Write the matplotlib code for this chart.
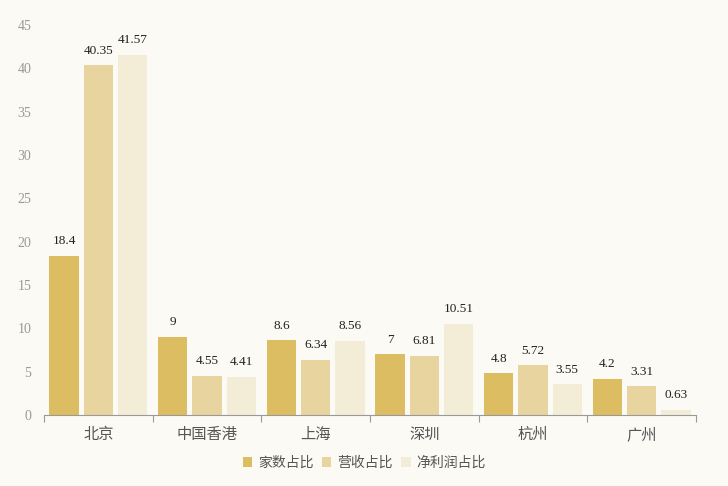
import matplotlib
matplotlib.use('Agg')
import matplotlib.pyplot as plt
import numpy as np

cities = ['北京', '中国香港', '上海', '深圳', '杭州', '广州']
series_names = ['家数占比', '营收占比', '净利润占比']
count_share = [18.4, 9, 8.6, 7, 4.8, 4.2]
revenue_share = [40.35, 4.55, 6.34, 6.81, 5.72, 3.31]
profit_share = [41.57, 4.41, 8.56, 10.51, 3.55, 0.63]
colors = ['#DDBD62', '#E8D49E', '#F3ECD6']
bg = '#FCFAF5'

plt.rcParams['font.family'] = ['Noto Sans CJK SC', 'DejaVu Sans']

fig = plt.figure(figsize=(7.28, 4.86), dpi=100, facecolor=bg)
ax = fig.add_axes([0.0604, 0.146, 0.8956, 0.8026], facecolor=bg)

x = np.arange(len(cities))
width = 0.27
step = 0.315
for i, (vals, name) in enumerate(zip([count_share, revenue_share, profit_share], series_names)):
    pos = x + (i - 1) * step
    ax.bar(pos, vals, width, color=colors[i], label=name, zorder=2)
    for xp, v in zip(pos, vals):
        ax.text(xp, v + 1.0, '{0:g}'.format(v), ha='center', va='bottom',
                fontsize=9.5, family='Liberation Serif', color='#222222')

ax.set_xlim(-0.5, len(cities) - 0.5)
ax.set_ylim(0, 45)
ax.set_yticks(range(0, 46, 5))
ax.set_yticklabels([str(t) for t in range(0, 46, 5)], family='Liberation Serif',
                   fontsize=10, color='#999999')
ax.tick_params(axis='y', length=0, pad=9)

ax.set_xticks(np.arange(-0.5, len(cities), 1.0))
ax.set_xticklabels([])
ax.set_xticks(x, minor=True)
ax.set_xticklabels(cities, minor=True, fontsize=11, color='#555555')
ax.tick_params(axis='x', which='major', length=5, color='#999999', direction='out')
ax.tick_params(axis='x', which='minor', length=0, pad=8)

for s in ['top', 'right', 'left']:
    ax.spines[s].set_visible(False)
ax.spines['bottom'].set_color('#999999')

fig.legend(loc='lower center', bbox_to_anchor=(0.5, 0.007), ncol=3, frameon=False,
           fontsize=10, handlelength=0.7, handleheight=0.7, handletextpad=0.4,
           columnspacing=0.6, labelcolor='#555555')

fig.savefig('out.png', dpi=100, facecolor=bg)
